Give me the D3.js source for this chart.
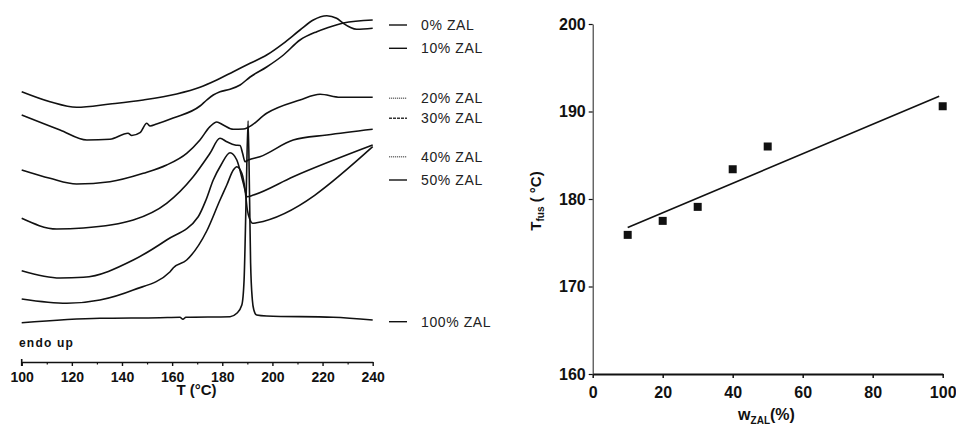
<html>
<head>
<meta charset="utf-8">
<script src="https://d3js.org/d3.v7.min.js"></script>
<style>
  body { margin: 0; background: #fff; }
  text { font-family: "Liberation Sans", Arial, sans-serif; }
</style>
</head>
<body>
<script>
    // DSC traces: [T (°C), heat flow (arb. units, stacked)]
    var zal0 = [[100,243.3],[111.3,233.3],[121.9,227.7],[135.2,231],[148.5,235],[161.8,241],[171.1,247.7],[177.8,255],
                [184.4,263.3],[191.1,271.7],[197.7,280],[204.4,291.7],[211,305],[216.3,315],[221.7,319.3],[225.6,316.7],
                [228.3,311.7],[231,307.7],[233.6,305.7],[240,306.7]]
    var zal10 = [[100,220],[115.3,205],[126,195],[135.2,195.7],[142.4,201.7],[143.9,199.5],[147.2,202.3],[149.9,211.7],
                 [151.2,209],[153.8,211],[160.4,217],[171.1,229],[173.8,235],[176.4,240],[179.1,243.3],[183.1,245.7],
                 [187.1,250],[191.1,258],[197.7,268],[204.4,280],[211,295],[217.7,303.3],[221.7,307],[228.3,312],[240,315]]
    var zal20 = [[100,165],[111.3,156.7],[121.9,151],[135.2,153.3],[148.5,161.7],[157.8,170],[165.8,181.7],[171.1,195],
                 [175.1,208.3],[177.8,213],[180.4,210],[184.4,205.7],[188.4,206],[190.4,207.7],[197.7,221.7],[211,235],
                 [219,240.7],[227,237.7],[240,237.7]]
    var zal30 = [[100,116.7],[114,106],[124.6,107],[144.5,115],[157.8,131.7],[168.4,158.3],[175.1,181.7],[179.1,196.7],
                 [181.8,193.3],[185.1,190],[187.1,189.5],[188.1,181.7],[189.1,173.3],[190.4,175],[195,178.3],[208.3,195],
                 [221.7,200],[240,205.7]]
    var zal40 = [[100,64.3],[115.3,57],[124.6,57.7],[144.5,75],[157.8,95],[170.4,118.3],[173.5,135],[176.4,155],
                 [179.5,170],[183.1,182.3],[185.8,175],[188.4,151.7],[190,138.3],[192.4,140],[208.3,158.3],[240,190]]
    var zal50 = [[100,36],[118,31.7],[131.2,35],[144.5,45],[159.2,63.3],[160.5,67.3],[165.8,75],[173.8,104],[179.1,135],
                 [181.8,150],[184.4,165],[185.8,168.3],[187.8,161.7],[189.1,145],[190,125],[191.1,115],[192.1,111.7],
                 [193.7,112.3],[240,188.3]]
    var zal100 = [[100,12.3],[131.2,16.7],[155.2,17.3],[163.1,17.7],[164.3,15.7],[165.5,17.7],[183.1,18.3],[185.8,21.7],
                  [187.8,30],[188.7,55],[189.5,135],[190.3,214.3],[190.9,135],[191.3,72],[192,35],[192.6,25],[193.7,20],
                  [197.7,19],[224.2,17.7],[240,15]]
    var traces = [zal0, zal10, zal20, zal30, zal40, zal50, zal100]
    var traceLabels = ['0% ZAL', '10% ZAL', '20% ZAL', '30% ZAL', '40% ZAL', '50% ZAL', '100% ZAL']
    var tempTicks = [100, 120, 140, 160, 180, 200, 220, 240]
    var tempMinor = [110, 130, 150, 170, 190, 210, 230]

    // melting temperature vs ZAL content
    var wZal = [10, 20, 30, 40, 50, 100]
    var tFus = [175.9, 177.5, 179.1, 183.4, 186.0, 190.6]
    var wTicks = [0, 20, 40, 60, 80, 100]
    var fusTicks = [160, 170, 180, 190, 200]

    // layout bits (label heights in heat-flow units, key line styles)
    var keyAt = [310, 286.7, 236.7, 216.7, 178.3, 155, 13.3]
    var keyDash = [null, null, '1.2,0.8', '3,1', '1.2,0.8', null, null]
    var keyColor = ['#111', '#111', '#777', '#333', '#777', '#111', '#111']

    var width = 956, height = 426
    var svg = d3.select('body').append('svg').attr('width', width).attr('height', height)

    // ---------- left: DSC curves ----------
    var xT = d3.scaleLinear().domain([100, 240]).range([21.7, 372.7])
    var yH = d3.scaleLinear().domain([0, 335]).range([335, 0])

    var line = d3.line().x(function(d){return xT(d[0])}).y(function(d){return yH(d[1])}).curve(d3.curveMonotoneX)

    svg.append('g').selectAll('path').data(traces).enter().append('path')
        .attr('d', line).attr('fill', 'none').attr('stroke', '#111').attr('stroke-width', 1.6)
        .attr('stroke-linejoin', 'round')

    var keys = svg.append('g').selectAll('g').data(traceLabels).enter().append('g')
        .attr('transform', function(d, i){return 'translate(0,' + yH(keyAt[i]) + ')'})
    keys.append('line').attr('x1', 389).attr('x2', 407).attr('y1', 0).attr('y2', 0)
        .attr('stroke', function(d, i){return keyColor[i]}).attr('stroke-width', 1.4)
        .attr('stroke-dasharray', function(d, i){return keyDash[i]})
    keys.append('text').attr('x', 421).attr('dy', '0.36em').text(function(d){return d})
        .style('font-size', '14px').style('letter-spacing', '0.6px').attr('fill', '#222')

    var axT = svg.append('g').attr('transform', 'translate(0,362)')
        .call(d3.axisBottom(xT).tickValues(tempTicks).tickSize(4).tickSizeOuter(0).tickPadding(6).tickFormat(d3.format('d')))
    axT.selectAll('text').style('font-size', '14px').style('font-weight', 'bold').attr('fill', '#111')
    axT.select('.domain').attr('stroke-width', 1.6).attr('stroke', '#111')
    axT.selectAll('.tick line').attr('stroke-width', 1.4).attr('stroke', '#111')
    svg.append('g').attr('transform', 'translate(0,362)')
        .call(d3.axisBottom(xT).tickValues(tempMinor).tickSize(2.5).tickFormat(''))
        .call(function(g){g.select('.domain').remove()})
        .selectAll('line').attr('stroke-width', 1.2).attr('stroke', '#111')
    svg.append('line').attr('x1', xT(100)).attr('x2', xT(100)).attr('y1', 359).attr('y2', 366)
        .attr('stroke', '#111').attr('stroke-width', 1.6)

    svg.append('text').attr('x', 19).attr('y', 347).text('endo up')
        .style('font-size', '12px').style('font-weight', 'bold').style('letter-spacing', '1.2px').attr('fill', '#111')
    svg.append('text').attr('x', 196.5).attr('y', 395).attr('text-anchor', 'middle').text('T (°C)')
        .style('font-size', '15px').style('font-weight', 'bold').attr('fill', '#111')

    // ---------- right: T_fus vs w_ZAL ----------
    var xW = d3.scaleLinear().domain([0, 100]).range([592.7, 942.7])
    var yF = d3.scaleLinear().domain([160, 200]).range([374, 24])

    var axW = svg.append('g').attr('transform', 'translate(0,374)')
        .call(d3.axisBottom(xW).tickValues(wTicks).tickSize(4).tickSizeOuter(0).tickPadding(9))
    axW.select('.domain').attr('stroke-width', 1.8).attr('stroke', '#111')
    axW.selectAll('.tick line').attr('stroke-width', 1.5).attr('stroke', '#111')
    axW.selectAll('text').style('font-size', '16px').style('font-weight', 'bold').attr('fill', '#111')

    var axF = svg.append('g').attr('transform', 'translate(592.7,0)')
        .call(d3.axisLeft(yF).tickValues(fusTicks).tickSize(4).tickSizeOuter(0).tickPadding(3))
    axF.select('.domain').attr('stroke-width', 1.1).attr('stroke', '#333')
    axF.selectAll('.tick line').attr('stroke-width', 1.2).attr('stroke', '#111')
    axF.selectAll('text').style('font-size', '16px').style('font-weight', 'bold').attr('fill', '#111')

    // least squares line through the points
    var mx = d3.mean(wZal), my = d3.mean(tFus)
    var sxy = d3.sum(wZal, function(x, i){return (x - mx) * (tFus[i] - my)})
    var sxx = d3.sum(wZal, function(x){return (x - mx) * (x - mx)})
    var slope = sxy / sxx, icpt = my - slope * mx
    var fitX = [d3.min(wZal), 99]
    svg.append('path')
        .attr('d', d3.line().x(function(d){return xW(d)}).y(function(d){return yF(icpt + slope * d)})(fitX))
        .attr('fill', 'none').attr('stroke', '#111').attr('stroke-width', 1.6)

    svg.append('g').selectAll('rect').data(wZal).enter().append('rect')
        .attr('x', function(d){return xW(d) - 4}).attr('y', function(d, i){return yF(tFus[i]) - 4})
        .attr('width', 8).attr('height', 8).attr('fill', '#111')

    var yl = svg.append('text').attr('transform', 'translate(541,201) rotate(-90)').attr('text-anchor', 'middle')
        .style('font-size', '15px').style('font-weight', 'bold').attr('fill', '#111')
    yl.append('tspan').text('T')
    yl.append('tspan').attr('dy', 3).style('font-size', '10px').text('fus')
    yl.append('tspan').attr('dy', -3).text(' ( °C)')

    var xl = svg.append('text').attr('x', 766.5).attr('y', 420).attr('text-anchor', 'middle')
        .style('font-size', '16px').style('font-weight', 'bold').attr('fill', '#111')
    xl.append('tspan').text('w')
    xl.append('tspan').attr('dy', 3.5).style('font-size', '10px').text('ZAL')
    xl.append('tspan').attr('dy', -3.5).text('(%)')
</script>
</body>
</html>
